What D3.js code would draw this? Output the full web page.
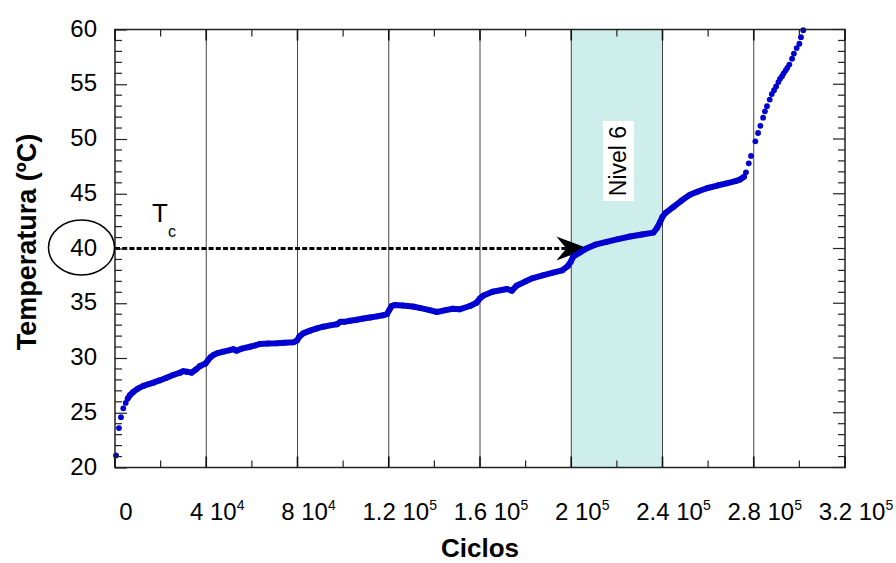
<!DOCTYPE html>
<html>
<head>
<meta charset="utf-8">
<script src="https://cdn.jsdelivr.net/npm/d3@7/dist/d3.min.js"></script>
<style>
  html, body { margin: 0; padding: 0; background: #fff; }
  svg { display: block; }
  text { font-family: "Liberation Sans", Arial, Helvetica, sans-serif; fill: #000; }
</style>
</head>
<body>
<svg id="chart" width="896" height="563"></svg>
<script>
// ---------- data ----------
const xTickValues   = [0, 40000, 80000, 120000, 160000, 200000, 240000, 280000, 320000];
const xTickMantissa = ["0", "4", "8", "1.2", "1.6", "2", "2.4", "2.8", "3.2"];
const xTickExponent = ["", "4", "4", "5", "5", "5", "5", "5", "5"];
const yTickValues   = [20, 25, 30, 35, 40, 45, 50, 55, 60];

const bandRange = [200000, 240000];
const bandLabel = "Nivel 6";
const tcValue = 40;
const arrowEndCycle = 207500;

// first isolated readings
const cyclesStart = [440, 1750, 2630, 3640, 4690];
const tempStart   = [21.1, 23.6, 24.6, 25.4, 25.9];

// dense readings
const cyclesDense = [5600, 6500, 8000, 10000, 12400, 14500, 16800, 19500, 22600, 25500,
  28500, 29900, 31500, 33600, 35500, 37300, 39700, 40800, 42000, 43100,
  45000, 47500, 50000, 51900, 53300, 55500, 59200, 61500, 63600, 67000,
  70900, 74500, 78200, 79800, 80800, 82500, 85500, 88500, 91300, 94300,
  97300, 98800, 100500, 103000, 106000, 108800, 111800, 114800, 117500, 119200,
  120300, 121300, 122700, 126000, 130600, 134000, 137500, 141100, 144500, 148000,
  151000, 155600, 158500, 160000, 161500, 165500, 171800, 174000, 176000, 180000,
  183200, 187500, 192000, 196000, 198500, 199800, 200800, 203500, 206700, 210500,
  215500, 220500, 225800, 231000, 236000, 237500, 238900, 240000, 241100, 244800,
  248500, 252000, 255500, 259400, 264000, 268100, 272000, 274000, 275700];
const tempDense = [26.3, 26.6, 26.9, 27.2, 27.45, 27.6, 27.75, 27.95, 28.2, 28.45,
  28.66, 28.8, 28.75, 28.66, 28.95, 29.27, 29.5, 29.8, 30.1, 30.27,
  30.45, 30.58, 30.7, 30.8, 30.67, 30.85, 31.03, 31.15, 31.28, 31.32,
  31.34, 31.4, 31.43, 31.6, 31.95, 32.25, 32.5, 32.7, 32.86, 32.98,
  33.08, 33.3, 33.3, 33.4, 33.5, 33.6, 33.7, 33.8, 33.9, 34.0,
  34.4, 34.75, 34.85, 34.8, 34.7, 34.55, 34.4, 34.2, 34.35, 34.5,
  34.45, 34.75, 35.05, 35.45, 35.7, 36.05, 36.3, 36.15, 36.6, 37.0,
  37.3, 37.55, 37.8, 38.0, 38.4, 38.8, 39.25, 39.6, 40.0, 40.35,
  40.6, 40.85, 41.1, 41.28, 41.45, 41.85, 42.4, 42.9, 43.2, 43.8,
  44.4, 44.9, 45.2, 45.5, 45.75, 45.95, 46.15, 46.3, 46.55];

// final isolated readings
const cyclesTail = [276600, 277800, 278800, 280700, 281900, 282900, 284100, 284900, 285800, 287000,
  287900, 288900, 289800, 290800, 291500, 292400, 293100, 294000, 294700, 295600,
  296800, 297600, 298800, 300000, 300700, 301700];
const tempTail = [46.96, 47.78, 48.45, 49.79, 50.55, 51.2, 51.95, 52.53, 53.0, 53.6,
  54.1, 54.45, 54.8, 55.2, 55.5, 55.73, 56.0, 56.27, 56.5, 56.8,
  57.33, 57.8, 58.3, 58.7, 59.3, 59.93];

// ---------- chart ----------
const svg = d3.select("#chart");
const L = 115, R = 845, T = 29.5, B = 467.5;
const x = d3.scaleLinear().domain([0, 320000]).range([L, R]);
const y = d3.scaleLinear().domain([20, 60]).range([B, T]);
const blue = "#0000d0";

// band
svg.append("rect")
  .attr("x", x(bandRange[0])).attr("y", T)
  .attr("width", x(bandRange[1]) - x(bandRange[0])).attr("height", B - T)
  .attr("fill", "#cdeeea");

// vertical grid
svg.append("g").selectAll("line")
  .data(xTickValues.slice(1, -1)).join("line")
  .attr("x1", d => x(d)).attr("x2", d => x(d))
  .attr("y1", T).attr("y2", B)
  .attr("stroke", "#444").attr("stroke-width", 1);

// Tc dashed line + arrow
const ty = y(tcValue);
const tipX = x(arrowEndCycle);
svg.append("line")
  .attr("x1", x(0)).attr("x2", tipX - 22)
  .attr("y1", ty).attr("y2", ty)
  .attr("stroke", "#000").attr("stroke-width", 3.2)
  .attr("stroke-dasharray", "5,2.2");
svg.append("path")
  .attr("d", `M${tipX},${ty} L${tipX - 32},${ty - 12} L${tipX - 22},${ty} L${tipX - 32},${ty + 12} Z`)
  .attr("fill", "#000");

// data: dense section as thick trace + dots
const denseData = cyclesDense.map((c, i) => [c, tempDense[i]]);
svg.append("path")
  .datum(denseData)
  .attr("d", d3.line().x(d => x(d[0])).y(d => y(d[1])))
  .attr("fill", "none").attr("stroke", blue)
  .attr("stroke-width", 6).attr("stroke-linejoin", "round").attr("stroke-linecap", "round");

const allDots = []
  .concat(cyclesStart.map((c, i) => [c, tempStart[i]]))
  .concat(denseData)
  .concat(cyclesTail.map((c, i) => [c, tempTail[i]]));
svg.append("g").selectAll("circle")
  .data(allDots).join("circle")
  .attr("cx", d => x(d[0])).attr("cy", d => y(d[1]))
  .attr("r", 2.9).attr("fill", blue);

// frame
svg.append("rect")
  .attr("x", L).attr("y", T).attr("width", R - L).attr("height", B - T)
  .attr("fill", "none").attr("stroke", "#222").attr("stroke-width", 1.5);

// y axis (left) with inner ticks
const yMinor = d3.range(20, 61, 1).filter(v => v % 5 !== 0);
const yAxis = d3.axisLeft(y).tickValues(yTickValues).tickSize(-12).tickPadding(18)
  .tickFormat(d3.format("d"));
const gy = svg.append("g").attr("transform", `translate(${L},0)`).call(yAxis);
gy.select(".domain").remove();
gy.selectAll(".tick line").attr("stroke", "#222").attr("stroke-width", 1.2);
gy.selectAll(".tick text").attr("font-size", 24).attr("dy", "0.28em")
  .style("font-family", "'Liberation Sans', Arial, sans-serif").attr("fill", "#000");
svg.append("g").selectAll("line").data(yMinor).join("line")
  .attr("x1", L).attr("x2", L + 7).attr("y1", d => y(d)).attr("y2", d => y(d))
  .attr("stroke", "#222").attr("stroke-width", 1.2);
// right side ticks
svg.append("g").selectAll("line").data(yTickValues).join("line")
  .attr("x1", R).attr("x2", R - 12).attr("y1", d => y(d)).attr("y2", d => y(d))
  .attr("stroke", "#222").attr("stroke-width", 1.2);
svg.append("g").selectAll("line").data(yMinor).join("line")
  .attr("x1", R).attr("x2", R - 7).attr("y1", d => y(d)).attr("y2", d => y(d))
  .attr("stroke", "#222").attr("stroke-width", 1.2);

// x ticks (bottom & top)
const xMinor = xTickValues.slice(0, -1).map(v => v + 20000);
[[B, -1], [T, 1]].forEach(([yy, dir]) => {
  svg.append("g").selectAll("line").data(xTickValues).join("line")
    .attr("x1", d => x(d)).attr("x2", d => x(d))
    .attr("y1", yy).attr("y2", yy + dir * 11)
    .attr("stroke", "#111").attr("stroke-width", 1.6);
  svg.append("g").selectAll("line").data(xMinor).join("line")
    .attr("x1", d => x(d)).attr("x2", d => x(d))
    .attr("y1", yy).attr("y2", yy + dir * 7)
    .attr("stroke", "#222").attr("stroke-width", 1.2);
});

// x tick labels with superscript exponents
const xl = svg.append("g").selectAll("text")
  .data(xTickValues).join("text")
  .attr("transform", d => `translate(${x(d) + 11},520)`)
  .attr("text-anchor", "middle")
  .attr("font-size", 24);
xl.each(function(d, i) {
  const t = d3.select(this);
  if (xTickExponent[i]) {
    t.append("tspan").text(xTickMantissa[i] + " 10");
    t.append("tspan").attr("font-size", 14).attr("dy", -10).text(xTickExponent[i]);
  } else {
    t.text(xTickMantissa[i]);
  }
});

// axis titles
svg.append("text")
  .attr("x", 480).attr("y", 557)
  .attr("text-anchor", "middle")
  .attr("font-size", 26).attr("font-weight", "bold")
  .text("Ciclos");
svg.append("text")
  .attr("transform", "translate(36,242) rotate(-90)")
  .attr("text-anchor", "middle")
  .attr("font-size", 27).attr("font-weight", "bold")
  .text("Temperatura (ºC)");

// Tc label and ellipse
svg.append("text").attr("x", 152).attr("y", 222).attr("font-size", 26).text("T");
svg.append("text").attr("x", 168).attr("y", 237).attr("font-size", 16).text("c");
svg.append("ellipse")
  .attr("cx", 81.5).attr("cy", ty - 1).attr("rx", 33).attr("ry", 27.5)
  .attr("fill", "none").attr("stroke", "#000").attr("stroke-width", 1.5);

// band label
const bcx = (x(bandRange[0]) + x(bandRange[1])) / 2 + 1.5;
svg.append("rect")
  .attr("x", bcx - 15.5).attr("y", 121).attr("width", 31).attr("height", 80)
  .attr("fill", "#fff");
svg.append("text")
  .attr("transform", `translate(${bcx + 8},161) rotate(-90)`)
  .attr("text-anchor", "middle")
  .attr("font-size", 23)
  .text(bandLabel);
</script>
</body>
</html>
